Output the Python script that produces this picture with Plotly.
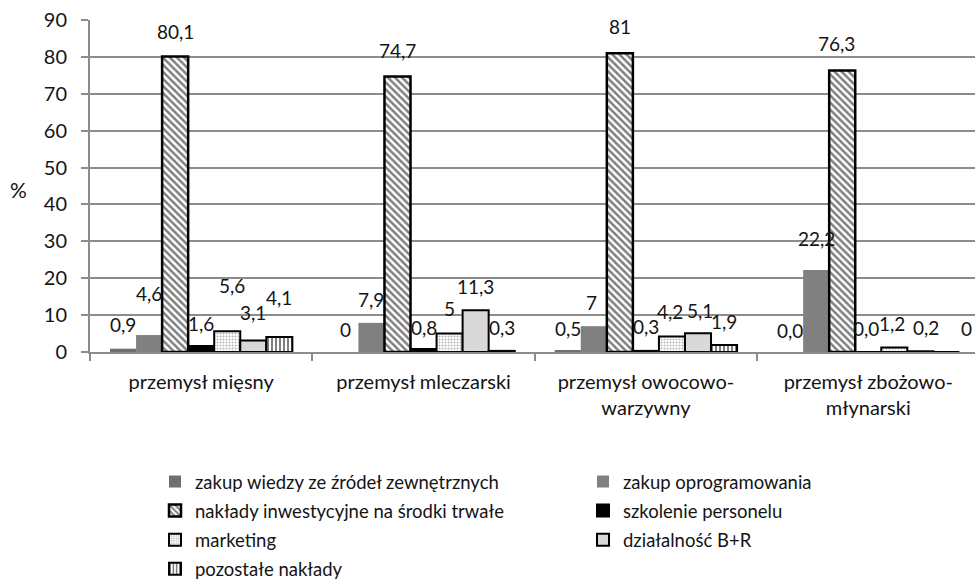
import plotly.graph_objects as go

# Struktura nakładów na innowacje w przemyśle spożywczym (%)
categories = [
    "przemysł mięsny",
    "przemysł mleczarski",
    "przemysł owocowo-<br>warzywny",
    "przemysł zbożowo-<br>młynarski",
]

series_names = [
    "zakup wiedzy ze źródeł zewnętrznych",
    "zakup oprogramowania",
    "nakłady inwestycyjne na środki trwałe",
    "szkolenie personelu",
    "marketing",
    "działalność B+R",
    "pozostałe nakłady",
]

zakup_wiedzy = [0.9, 0, 0.5, 0.0]
zakup_oprogramowania = [4.6, 7.9, 7, 22.2]
naklady_inwestycyjne = [80.1, 74.7, 81, 76.3]
szkolenie_personelu = [1.6, 0.8, 0.3, 0.0]
marketing = [5.6, 5, 4.2, 1.2]
dzialalnosc_br = [3.1, 11.3, 5.1, 0.2]
pozostale_naklady = [4.1, 0.3, 1.9, 0]

series_values = [
    zakup_wiedzy,
    zakup_oprogramowania,
    naklady_inwestycyjne,
    szkolenie_personelu,
    marketing,
    dzialalnosc_br,
    pozostale_naklady,
]

# label text as printed above the bars
series_labels = [
    ["0,9", "0", "0,5", "0,0"],
    ["4,6", "7,9", "7", "22,2"],
    ["80,1", "74,7", "81", "76,3"],
    ["1,6", "0,8", "0,3", "0,0"],
    ["5,6", "5", "4,2", "1,2"],
    ["3,1", "11,3", "5,1", "0,2"],
    ["4,1", "0,3", "1,9", "0"],
]

y_ticks = [0, 10, 20, 30, 40, 50, 60, 70, 80, 90]

# ---- styling ----
FONT = "Lato"
TEXT = "#141414"
GRID = "#8c8c8c"
BARGAP = 0.18
W, H = 975, 579
M_L, M_R, M_T, M_B = 90, 0, 20, 227

styles = [
    dict(color="#6f6f6f", line=dict(width=0)),
    dict(color="#808080", line=dict(width=0)),
    dict(color="white", line=dict(color="black", width=2.5),
         pattern=dict(shape="\\", size=5, solidity=0.5, fgcolor="black", bgcolor="white")),
    dict(color="black", line=dict(color="black", width=2)),
    dict(color="white", line=dict(color="black", width=2),
         pattern=dict(shape=".", size=3, solidity=0.35, fgcolor="#6a6a6a", bgcolor="white")),
    dict(color="#d9d9d9", line=dict(color="black", width=2)),
    dict(color="white", line=dict(color="black", width=2),
         pattern=dict(shape="|", size=4, solidity=0.5, fgcolor="black", bgcolor="white")),
]

# vertical gap (px) between bar top and label centre, and horizontal nudges
label_yshift = [
    [24, 23, 22, 22],
    [42, 23, 24, 32],
    [25, 26, 27, 27],
    [23, 22, 24, 24],
    [46, 25, 25, 24],
    [28, 24, 23, 24],
    [39, 23, 23, 24],
]
label_xshift = [
    [0, 0, 0, 0],
    [0, 0, -2, 0],
    [0, 0, 0, -6],
    [0, 0, 0, -2],
    [5, 0, -2, -2],
    [0, 0, 2, 6],
    [0, 0, 0, 20],
]

legend_of = ["legend", "legend2", "legend", "legend2", "legend", "legend2", "legend"]

fig = go.Figure()
for i, name in enumerate(series_names):
    fig.add_trace(go.Bar(
        name=name,
        x=categories,
        y=series_values[i],
        marker=styles[i],
        legend=legend_of[i],
        legendgroup=f"g{i}",
        hoverinfo="skip",
    ))

n = len(series_names)
slot = (1 - BARGAP) / n
annotations = []
for i in range(n):
    for c, v in enumerate(series_values[i]):
        annotations.append(dict(
            x=c + (i - (n - 1) / 2) * slot,
            y=v,
            xref="x", yref="y",
            text=series_labels[i][c],
            showarrow=False,
            yshift=label_yshift[i][c],
            xshift=label_xshift[i][c],
            font=dict(family=FONT, size=19, color=TEXT),
            xanchor="center", yanchor="middle",
        ))

plot_w = W - M_L - M_R
plot_h = H - M_T - M_B
annotations.append(dict(
    x=(18 - M_L) / plot_w, y=(H - M_B - 190) / plot_h,
    xref="paper", yref="paper", text="%", showarrow=False,
    xanchor="center", yanchor="middle",
    font=dict(family=FONT, size=21, color=TEXT),
))

legend_common = dict(
    orientation="v",
    font=dict(family=FONT, size=18.5, color=TEXT),
    bgcolor="rgba(0,0,0,0)",
    tracegroupgap=2,
    itemclick=False,
    xanchor="left", yanchor="top",
    yref="container", xref="container",
)

fig.update_layout(
    width=W,
    height=H,
    margin=dict(l=M_L, r=M_R, t=M_T, b=M_B, autoexpand=False),
    paper_bgcolor="white",
    plot_bgcolor="white",
    barmode="group",
    bargap=BARGAP,
    bargroupgap=0,
    font=dict(family=FONT, color=TEXT),
    annotations=annotations,
    legend=dict(x=155 / W, y=1 - 463 / H, **legend_common),
    legend2=dict(x=583 / W, y=1 - 463 / H, **legend_common),
    xaxis=dict(
        type="category",
        range=[-0.5, 3.48],
        showgrid=False,
        showline=True, linecolor=GRID, linewidth=2,
        ticks="outside", tickson="boundaries", ticklen=7, tickwidth=1.5, tickcolor=GRID,
        tickfont=dict(family=FONT, size=20, color=TEXT),
        tickangle=0,
        ticklabelstandoff=11,
        automargin=False,
        fixedrange=True,
    ),
    yaxis=dict(
        range=[0, 90],
        tickvals=y_ticks,
        showgrid=True, gridcolor=GRID, gridwidth=1.5,
        zeroline=False,
        showline=True, linecolor=GRID, linewidth=2,
        ticks="outside", ticklen=7, tickwidth=1.5, tickcolor=GRID,
        tickfont=dict(family=FONT, size=20, color=TEXT),
        ticklabelstandoff=10,
        automargin=False,
        fixedrange=True,
    ),
)

fig.write_html("out.html")
